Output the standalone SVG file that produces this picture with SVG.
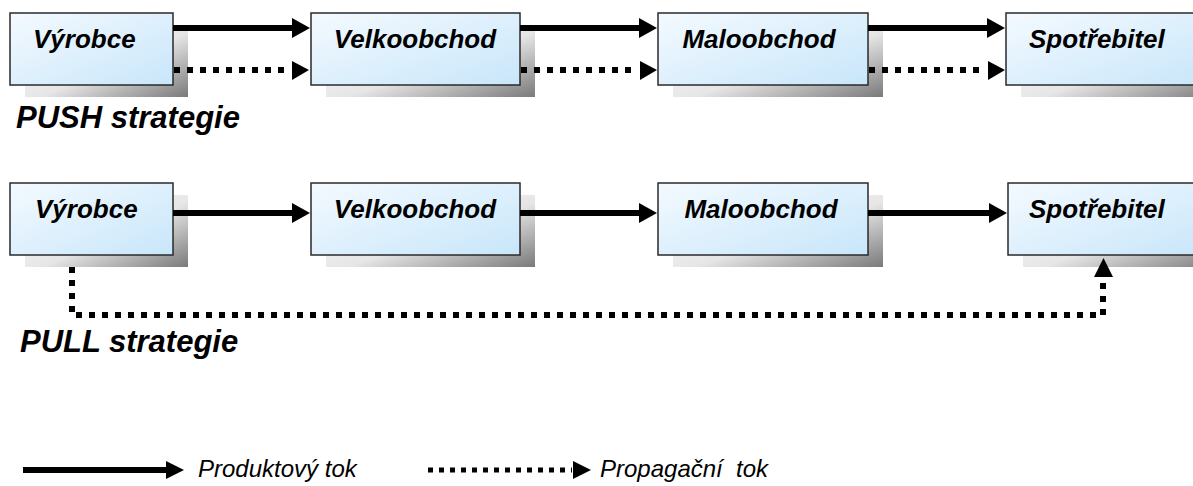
<svg xmlns="http://www.w3.org/2000/svg" width="1193" height="486" viewBox="0 0 1193 486">
<defs>
<linearGradient id="boxfill" x1="0" y1="0" x2="1" y2="1">
<stop offset="0" stop-color="#f4faff"/>
<stop offset="1" stop-color="#c8e6fa"/>
</linearGradient>
<linearGradient id="shadowfill" x1="0" y1="0" x2="1" y2="1">
<stop offset="0" stop-color="#ffffff"/>
<stop offset="0.55" stop-color="#e6e6e6"/>
<stop offset="1" stop-color="#7a7a7a"/>
</linearGradient>
</defs>
<style>
.box{fill:url(#boxfill);stroke:#2a2a2a;stroke-width:1.5}
.shadow{fill:url(#shadowfill)}
.lbl{font-family:"Liberation Sans",Arial,sans-serif;font-weight:bold;font-style:italic;font-size:26px;fill:#000}
.title{font-family:"Liberation Sans",Arial,sans-serif;font-weight:bold;font-style:italic;font-size:31px;fill:#000}
.leg{font-family:"Liberation Sans",Arial,sans-serif;font-style:italic;font-size:24px;fill:#000}
.solid{stroke:#000;stroke-width:6;fill:none}
.dot{stroke:#000;stroke-width:6;fill:none;stroke-dasharray:6 7}
.dotleg{stroke:#000;stroke-width:5;fill:none;stroke-dasharray:5 6}
.head{fill:#000}
</style>

<g id="push-vyrobce">
<rect class="shadow" x="25" y="25" width="163" height="72"/>
<rect class="box" x="10" y="13" width="163" height="72"/>
<text class="lbl" x="33" y="48">Výrobce</text>
</g>
<g id="push-velkoobchod">
<rect class="shadow" x="326" y="25" width="209" height="72"/>
<rect class="box" x="311" y="13" width="209" height="72"/>
<text class="lbl" x="415" y="48" text-anchor="middle">Velkoobchod</text>
</g>
<g id="push-maloobchod">
<rect class="shadow" x="673" y="25" width="210" height="72"/>
<rect class="box" x="658" y="13" width="210" height="72"/>
<text class="lbl" x="759" y="48" text-anchor="middle">Maloobchod</text>
</g>
<g id="push-spotrebitel">
<rect class="shadow" x="1021" y="25" width="200" height="72"/>
<rect class="box" x="1006" y="13" width="200" height="72"/>
<text class="lbl" x="1029" y="48">Spotřebitel</text>
</g>

<g id="pull-vyrobce">
<rect class="shadow" x="25" y="195" width="163" height="72"/>
<rect class="box" x="10" y="183" width="163" height="72"/>
<text class="lbl" x="35" y="218">Výrobce</text>
</g>
<g id="pull-velkoobchod">
<rect class="shadow" x="326" y="195" width="209" height="72"/>
<rect class="box" x="311" y="183" width="209" height="72"/>
<text class="lbl" x="415" y="218" text-anchor="middle">Velkoobchod</text>
</g>
<g id="pull-maloobchod">
<rect class="shadow" x="673" y="195" width="210" height="72"/>
<rect class="box" x="658" y="183" width="210" height="72"/>
<text class="lbl" x="761" y="218" text-anchor="middle">Maloobchod</text>
</g>
<g id="pull-spotrebitel">
<rect class="shadow" x="1023" y="195" width="200" height="72"/>
<rect class="box" x="1008" y="183" width="200" height="72"/>
<text class="lbl" x="1029" y="218">Spotřebitel</text>
</g>

<g id="connectors">
<!-- PUSH solid -->
<line class="solid" x1="173" y1="28" x2="294" y2="28"/>
<polygon class="head" points="292,18 310,28 292,38"/>
<line class="solid" x1="520" y1="28" x2="641" y2="28"/>
<polygon class="head" points="639,18 657,28 639,38"/>
<line class="solid" x1="868" y1="28" x2="989" y2="28"/>
<polygon class="head" points="987,18 1005,28 987,38"/>
<!-- PUSH dotted -->
<line class="dot" x1="174" y1="70" x2="291" y2="70"/>
<polygon class="head" points="292,61 309,70 292,80"/>
<line class="dot" x1="521" y1="70" x2="638" y2="70"/>
<polygon class="head" points="640,61 657,70 640,80"/>
<line class="dot" x1="869" y1="70" x2="986" y2="70"/>
<polygon class="head" points="988,61 1005,70 988,80"/>
<!-- PULL solid -->
<line class="solid" x1="173" y1="213" x2="294" y2="213"/>
<polygon class="head" points="292,203 310,213 292,223"/>
<line class="solid" x1="520" y1="213" x2="641" y2="213"/>
<polygon class="head" points="639,203 657,213 639,223"/>
<line class="solid" x1="868" y1="213" x2="991" y2="213"/>
<polygon class="head" points="989,203 1007,213 989,223"/>
<!-- PULL dotted -->
<path class="dot" d="M72,267 V315 H1103 V277"/>
<polygon class="head" points="1094,277 1103.5,258 1113,277"/>
<!-- legend -->
<line class="solid" x1="23" y1="470" x2="168" y2="470"/>
<polygon class="head" points="166,461 184,470 166,479"/>
<line class="dotleg" x1="428" y1="470" x2="572" y2="470"/>
<polygon class="head" points="573,461 591,470 573,479"/>
</g>

<text class="title" x="16" y="128">PUSH strategie</text>
<text class="title" x="20" y="352">PULL strategie</text>
<text class="leg" x="198" y="477">Produktový tok</text>
<text class="leg" x="600" y="477" xml:space="preserve">Propagační  tok</text>
</svg>
